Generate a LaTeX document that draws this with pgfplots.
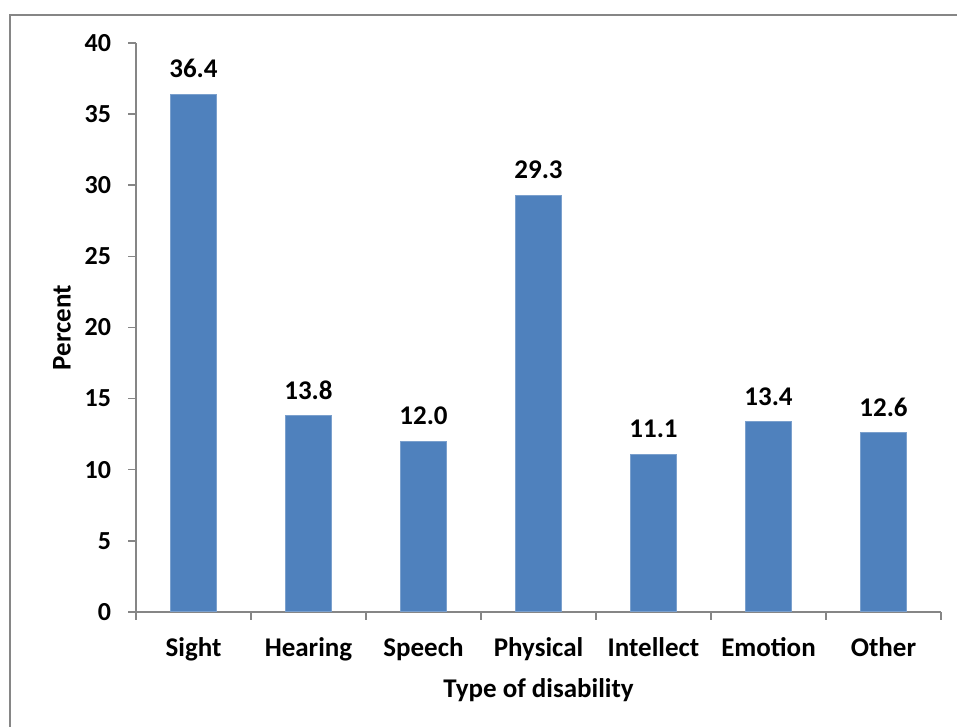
\documentclass[border=0pt]{standalone}
\usepackage{pgfplots}
\pgfplotsset{compat=1.18}
\usepackage{fontspec}
\setmainfont{Carlito}
\definecolor{barblue}{HTML}{4F81BD}
\definecolor{axisgray}{HTML}{868686}
\begin{document}
\begin{tikzpicture}
\useasboundingbox (0,0) rectangle (478.5pt,363.5pt);
\draw[axisgray, line width=1pt] (5pt,-2pt) -- (5pt,356pt) -- (480pt,356pt);
\begin{axis}[
  at={(68pt,57.5pt)}, anchor=south west,
  scale only axis, width=402.5pt, height=284.5pt,
  xmin=-0.5, xmax=6.5, ymin=0, ymax=40,
  axis x line=bottom, axis y line=left,
  axis line style={axisgray, line width=0.75pt, -},
  xtick={-0.5,0.5,...,6.5},
  x tick label as interval,
  xticklabels={Sight,Hearing,Speech,Physical,Intellect,Emotion,Other},
  ytick={0,5,...,40},
  tick align=outside, major tick length=4pt,
  tick style={axisgray, line width=0.75pt},
  /pgf/number format/assume math mode=true,
  xticklabel style={font=\fontsize{13.5}{15}\selectfont\bfseries, yshift=-5pt},
  yticklabel style={font=\fontsize{13}{15}\selectfont\bfseries, xshift=-5pt},
  xlabel={Type of disability},
  ylabel={Percent},
  xlabel style={font=\fontsize{13.5}{15}\selectfont\bfseries, at={(axis description cs:0.5,-0.137)}, anchor=center},
  ylabel style={font=\fontsize{13.5}{15}\selectfont\bfseries, at={(axis description cs:-0.092,0.5)}, anchor=center},
  ybar, bar width=0.4,
  nodes near coords={\pgfmathprintnumber[fixed,fixed zerofill,precision=1]{\pgfplotspointmeta}},
  every node near coord/.append style={font=\fontsize{13.5}{15}\selectfont\bfseries, black, yshift=4.5pt},
]
\addplot[fill=barblue, draw=barblue!75!white, line width=0.5pt]
  coordinates {(0,36.4) (1,13.8) (2,12.0) (3,29.3) (4,11.1) (5,13.4) (6,12.6)};
\end{axis}
\end{tikzpicture}
\end{document}
